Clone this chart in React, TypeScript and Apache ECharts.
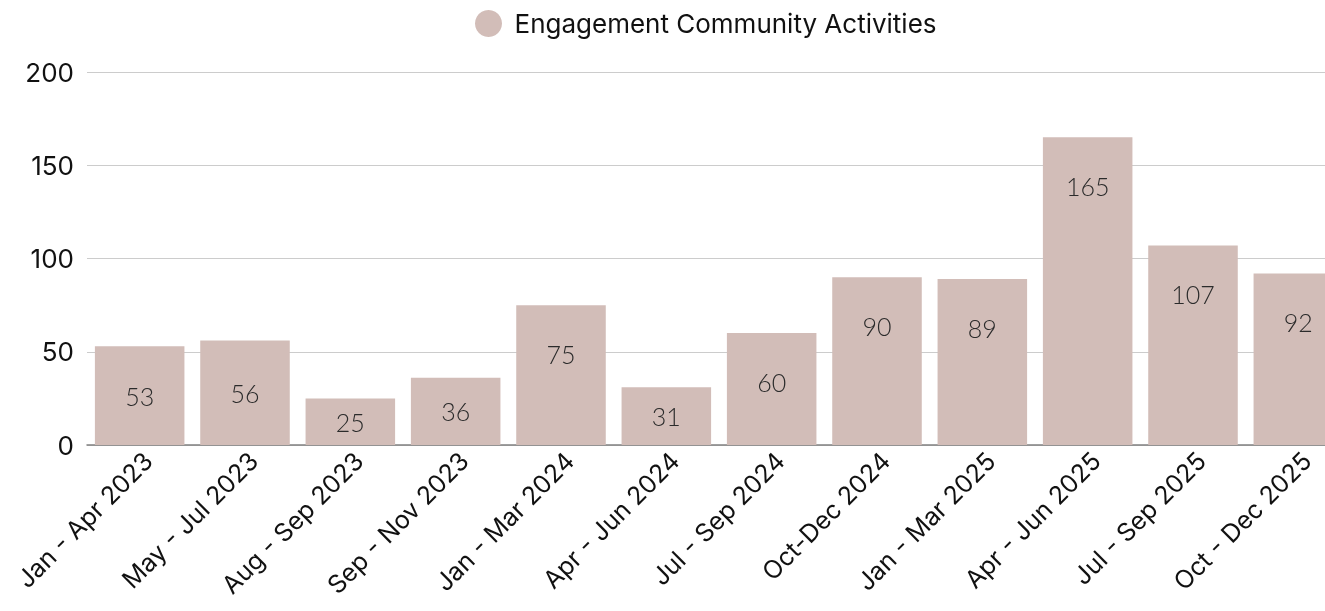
import React, { useEffect, useRef } from "react";
import * as echarts from "echarts";

const categories = [
  "Jan - Apr 2023",
  "May - Jul 2023",
  "Aug - Sep 2023",
  "Sep - Nov 2023",
  "Jan - Mar 2024",
  "Apr - Jun 2024",
  "Jul - Sep 2024",
  "Oct-Dec 2024",
  "Jan - Mar 2025",
  "Apr - Jun 2025",
  "Jul - Sep 2025",
  "Oct - Dec 2025",
];
const values = [53, 56, 25, 36, 75, 31, 60, 90, 89, 165, 107, 92];
const seriesName = "Engagement Community Activities";
const yTicks = { min: 0, max: 200, interval: 50 };

export default function App() {
  const ref = useRef<HTMLDivElement>(null);
  useEffect(() => {
    if (!ref.current) return;
    const chart = echarts.init(ref.current, undefined, { renderer: "svg" });
    const data = values.map((v) => ({
      value: v,
      label:
        v >= 60
          ? { position: "insideTop", distance: 36 }
          : { position: "inside" },
    }));
    chart.setOption({
      animation: false,
      legend: {
        top: 5,
        left: 470,
        icon: "circle",
        itemWidth: 42,
        itemHeight: 27,
        textStyle: { fontFamily: "Inter", fontSize: 26, color: "#111" },
        data: [seriesName],
      },
      grid: {
        left: 87,
        top: 72,
        width: 1264,
        height: 373,
        containLabel: false,
        outerBoundsMode: "none",
      },
      xAxis: {
        type: "category",
        data: categories,
        axisTick: { show: false },
        axisLine: { lineStyle: { color: "#808080", width: 1.5 } },
        axisLabel: {
          rotate: 45,
          interval: 0,
          margin: 20,
          padding: [0, -12, 0, 0],
          fontFamily: "Inter",
          fontSize: 25,
          color: "#111",
        },
      },
      yAxis: {
        type: "value",
        min: yTicks.min,
        max: yTicks.max,
        interval: yTicks.interval,
        axisLabel: {
          fontFamily: "Inter",
          fontSize: 26,
          color: "#111",
          margin: 13,
        },
        splitLine: { lineStyle: { color: "#cccccc", width: 1 } },
        axisLine: { show: false },
        axisTick: { show: false },
      },
      series: [
        {
          name: seriesName,
          type: "bar",
          data,
          barCategoryGap: "15%",
          itemStyle: { color: "#d2bdb8" },
          label: {
            show: true,
            fontFamily: "Lato",
            fontWeight: 300,
            fontSize: 25,
            color: "#2b2b2b",
          },
        },
      ],
    });
    return () => chart.dispose();
  }, []);
  return (
    <div
      ref={ref}
      style={{ position: "fixed", left: 0, top: 0, width: 1325, height: 611 }}
    />
  );
}
